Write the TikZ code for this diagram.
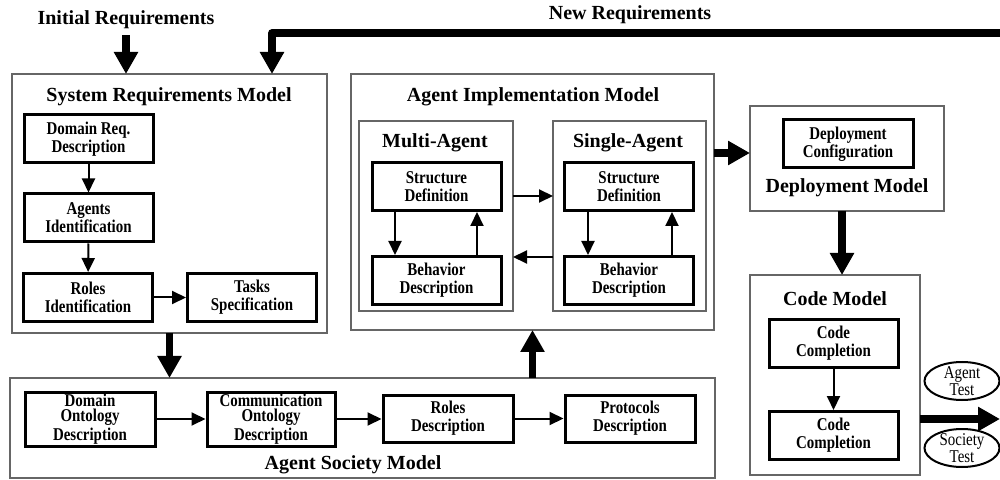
\documentclass[tikz,border=0pt]{standalone}
\usepackage{fontspec}
\setmainfont{Liberation Serif}
\newfontfamily\stepfont{Liberation Serif}[FakeStretch=0.83]
\usetikzlibrary{arrows.meta,shapes.geometric,calc}

\tikzset{
  panel/.style={draw=black!60, line width=0.75pt, inner sep=0pt, outer sep=0pt},
  stepbox/.style={draw=black, line width=1.5pt, inner sep=0pt, minimum width=64.5pt,
    minimum height=24pt, align=center, font=\stepfont\bfseries\fontsize{9}{9}\selectfont},
  heading/.style={font=\bfseries\fontsize{10}{12}\selectfont, inner sep=0pt},
  flow/.style={line width=1pt, -{Triangle[width=6.5pt,length=7pt]}},
  bigflow/.style={line width=3.75pt, -{Triangle[width=11.5pt,length=11pt]}},
  testlabel/.style={ellipse, draw, line width=1pt, minimum width=37.5pt, minimum height=19pt,
    inner sep=-2.5pt, align=center, font=\stepfont\fontsize{9}{8.5}\selectfont},
}

\begin{document}
\begin{tikzpicture}[x=0.5pt,y=-0.5pt]
\useasboundingbox (0,0) rectangle (1000,480);

% model panels
\node[panel, minimum width=157.5pt, minimum height=129.5pt] (srm) at (169.5,203.5) {};
\node[panel, minimum width=181.5pt, minimum height=128pt]   (aim) at (532.5,202) {};
\node[panel, minimum width=77pt,    minimum height=95pt]    (ma)  at (436,216) {};
\node[panel, minimum width=76.5pt,  minimum height=95pt]    (sa)  at (629.5,216) {};
\node[panel, minimum width=97pt,    minimum height=52.5pt]  (dm)  at (847,158.5) {};
\node[panel, minimum width=85pt,    minimum height=100pt]   (cm)  at (835,375) {};
\node[panel, minimum width=352.5pt, minimum height=50pt]    (asm) at (362.5,428) {};

% headings
\node[heading] (init)   at (126,20)  {Initial Requirements};
\node[heading] (newreq) at (630,15)  {New Requirements};
\node[heading] (srmT)   at (169,97)  {System Requirements Model};
\node[heading] (aimT)   at (533,97)  {Agent Implementation Model};
\node[heading] (maT)    at (435,143) {Multi-Agent};
\node[heading] (saT)    at (628,143) {Single-Agent};
\node[heading] (dmT)    at (847,188) {Deployment Model};
\node[heading] (cmT)    at (835,299) {Code Model};
\node[heading] (asmT)   at (353,465) {Agent Society Model};

% system requirements steps
\node[stepbox, font=\stepfont\bfseries\fontsize{9}{8}\selectfont] (dreq) at (88.5,139) {Domain Req.\\Description};
\node[stepbox] (agid) at (88.5,218)  {Agents\\Identification};
\node[stepbox] (roid) at (88,297.5)  {Roles\\Identification};
\node[stepbox] (task) at (252,297.5) {Tasks\\Specification};

% agent implementation steps
\node[stepbox] (msd) at (436.5,186.5) {Structure\\Definition};
\node[stepbox] (mbd) at (436.5,280.5) {Behavior\\Description};
\node[stepbox] (ssd) at (629,186.5)   {Structure\\Definition};
\node[stepbox] (sbd) at (629,280.5)   {Behavior\\Description};

% deployment and code steps
\node[stepbox, minimum width=65pt] (dconf) at (848,144) {Deployment\\Configuration};
\node[stepbox] (cc1) at (833.5,343.5) {Code\\Completion};
\node[stepbox] (cc2) at (833.5,435.5) {Code\\Completion};

% agent society steps
\node[stepbox, minimum width=65pt, minimum height=27pt, font=\stepfont\bfseries\fontsize{9}{7.5}\selectfont]
  (dod) at (90,419) {Domain\\Ontology\\Description};
\node[stepbox, minimum width=64pt, minimum height=27pt, font=\stepfont\bfseries\fontsize{9}{7.5}\selectfont]
  (cod) at (271,419) {Communication\\Ontology\\Description};
\node[stepbox, minimum width=65pt, minimum height=23.5pt] (rd) at (448,418.5) {Roles\\Description};
\node[stepbox, minimum width=65pt, minimum height=23.5pt] (pd) at (630,418.5) {Protocols\\Description};

% test labels
\node[testlabel] (atest) at (962,381) {Agent\\Test};
\node[testlabel] (stest) at (962,448) {Society\\Test};

% free ends of the outer flows
\coordinate (nrin) at (1000,33);
\coordinate (tout) at (1000,419);

% thin flows
\draw[flow] (dreq) -- (agid);
\draw[flow] (agid) -- (roid);
\draw[flow] (roid) -- (task);
\draw[flow] ([xshift=-20.75pt]msd.south) -- ([xshift=-20.75pt]mbd.north);
\draw[flow] ([xshift=20.25pt]mbd.north) -- ([xshift=20.25pt]msd.south);
\draw[flow] ([xshift=-20.5pt]ssd.south) -- ([xshift=-20.5pt]sbd.north);
\draw[flow] ([xshift=21.5pt]sbd.north) -- ([xshift=21.5pt]ssd.south);
\draw[flow] ([yshift=10pt]ma.east) -- ([yshift=10pt]sa.west);
\draw[flow] ([yshift=-20.5pt]sa.west) -- ([yshift=-20.5pt]ma.east);
\draw[flow] (cc1) -- (cc2);
\draw[flow] (dod.east) -- (cod.west);
\draw[flow] (cod.east) -- (rd.west |- cod.east);
\draw[flow] (rd.east) -- (pd.west);

% thick flows
\draw[bigflow] ([yshift=-3pt]init.south) -- (init.south |- srm.north);
\draw[bigflow, line join=round] (nrin) -| ([xshift=51.25pt]srm.north);
\draw[bigflow] (srm.south) -- (srm.south |- asm.north);
\draw[bigflow] (asm.north -| aim.south) -- (aim.south);
\draw[bigflow] ([yshift=2.75pt]dm.west -| aim.east) -- ([yshift=2.75pt]dm.west);
\draw[bigflow] ([xshift=-2.5pt]dm.south) -- ([xshift=-2.5pt]dm.south |- cm.north);
\draw[bigflow] (cm.east |- tout) -- (tout);
\end{tikzpicture}
\end{document}
